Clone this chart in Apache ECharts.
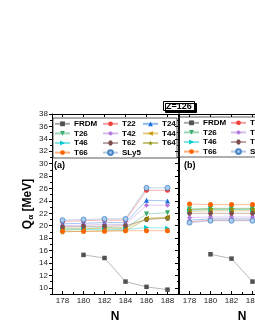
<!DOCTYPE html>
<html><head><meta charset="utf-8">
<script src="https://cdn.jsdelivr.net/npm/echarts@6/dist/echarts.min.js"></script>
<style>html,body{margin:0;padding:0;background:#fff}#c{width:255px;height:330px}</style>
</head><body><div id="c"></div>
<script>
// ---- data ----
const N_a = [178, 180, 182, 184, 186, 188];
const FRDM_a = [null, 15.3, 14.8, 11.0, 10.15, 9.7];
const T22_a  = [20.7, 20.8, 20.9, 20.9, 25.7, 25.7];
const T24_a  = [20.3, 20.4, 20.5, 20.5, 24.1, 24.0];
const T26_a  = [19.6, 19.6, 19.7, 19.6, 21.9, 22.1];
const T42_a  = [20.0, 20.1, 20.2, 20.2, 23.3, 23.3];
const T44_a  = [19.4, 19.5, 19.6, 19.6, 21.2, 21.4];
const T46_a  = [19.3, 19.4, 19.4, 19.4, 19.7, 19.6];
const T62_a  = [19.8, 19.9, 19.9, 20.0, 21.0, 21.2];
const T64_a  = [19.0, 19.1, 19.2, 19.2, 21.1, 21.3];
const T66_a  = [19.1, 19.1, 19.1, 19.2, 19.2, 19.2];
const SLy5_a = [20.9, 21.0, 21.1, 21.1, 26.1, 26.1];

const N_b = [178, 180, 182, 184];
const FRDM_b = [null, 15.4, 14.7, 11.0];
const T22_b  = [20.6, 20.9, 20.9, 20.9];
const T24_b  = [20.9, 21.1, 21.1, 21.1];
const T26_b  = [22.7, 22.8, 22.8, 22.8];
const T42_b  = [21.3, 21.4, 21.4, 21.4];
const T44_b  = [22.3, 22.4, 22.4, 22.4];
const T46_b  = [22.5, 22.6, 22.6, 22.6];
const T62_b  = [22.0, 22.0, 22.0, 22.0];
const T64_b  = [22.6, 22.7, 22.7, 22.7];
const T66_b  = [23.5, 23.4, 23.4, 23.4];
const SLy5_b = [20.5, 20.8, 20.8, 20.8];

const xTickLabels = [178, 180, 182, 184, 186, 188];
const xMinorTicks = [177, 179, 181, 183, 185, 187, 189];
const yTickLabels = [10, 12, 14, 16, 18, 20, 22, 24, 26, 28, 30, 32, 34, 36, 38];
const yMinorTicks = [9, 11, 13, 15, 17, 19, 21, 23, 25, 27, 29, 31, 33, 35, 37];

const legendCol1 = ['FRDM', 'T26', 'T46', 'T66'];
const legendCol2 = ['T22', 'T42', 'T62', 'SLy5'];
const legendCol3 = ['T24', 'T44', 'T64'];

// ---- styles ----
const STAR = 'path://M50,0 L61,35 L98,35 L68,57 L79,91 L50,70 L21,91 L32,57 L2,35 L39,35 Z';
const HEX = 'path://M25,0 L75,0 L100,50 L75,100 L25,100 L0,50 Z';
const styles = {
  FRDM: {c: '#515151', s: 'rect', r: 0},
  T22: {c: '#F14040', s: 'circle', r: 0},
  T24: {c: '#1A6FDF', s: 'triangle', r: 0},
  T26: {c: '#37AD6B', s: 'triangle', r: 180},
  T42: {c: '#B177DE', s: 'diamond', r: 0},
  T44: {c: '#CC9900', s: 'triangle', r: 90},
  T46: {c: '#00CBCC', s: 'triangle', r: -90},
  T62: {c: '#7D4E4E', s: HEX, r: 0},
  T64: {c: '#8E8E00', s: STAR, r: 0},
  T66: {c: '#FB6501', s: 'circle', r: 0},
  SLy5: {c: '#6699CC', s: 'circle', r: 0}
};
const dataA = {FRDM: FRDM_a, T22: T22_a, T24: T24_a, T26: T26_a, T42: T42_a, T44: T44_a, T46: T46_a, T62: T62_a, T64: T64_a, T66: T66_a, SLy5: SLy5_a};
const dataB = {FRDM: FRDM_b, T22: T22_b, T24: T24_b, T26: T26_b, T42: T42_b, T44: T44_b, T46: T46_b, T62: T62_b, T64: T64_b, T66: T66_b, SLy5: SLy5_b};
const order = ['FRDM','T22','T24','T26','T42','T44','T46','T62','T64','T66','SLy5'];

function mkSeries(name, xs, ys, gi) {
  const st = styles[name];
  return {
    name: name, type: 'line', xAxisIndex: gi * 3, yAxisIndex: gi * 3,
    data: xs.map((x, i) => [x, ys[i]]),
    symbol: st.s, symbolRotate: st.r,
    symbolSize: name === 'T64' ? 6 : (name === 'FRDM' ? 4.5 : 5),
    showAllSymbol: true,
    connectNulls: false,
    itemStyle: name === 'SLy5' ? {color: '#A8CBEE', borderColor: '#4A86C5', borderWidth: 0.8} : {color: st.c},
    lineStyle: {color: st.c, width: 0.8, opacity: 0.5},
    emphasis: {disabled: true},
    z: 3, animation: false
  };
}
const series = [];
order.forEach(n => series.push(mkSeries(n, N_a, dataA[n], 0)));
order.forEach(n => series.push(mkSeries(n, N_b, dataB[n], 1)));

const FONT = 'Liberation Sans';
const axisCommon = {color: '#000', width: 1};

function xAxes(gi) {
  return [
    {type: 'value', gridIndex: gi, min: 177, max: 189, position: 'bottom',
     axisLine: {show: true, onZero: false, lineStyle: axisCommon},
     axisTick: {show: true, inside: true, length: 3, customValues: xTickLabels, lineStyle: axisCommon},
     axisLabel: {customValues: xTickLabels, fontSize: 8, color: '#222', fontFamily: FONT, margin: 3},
     splitLine: {show: false},
     name: 'N', nameLocation: 'middle', nameGap: 17,
     nameTextStyle: {fontSize: 12, fontWeight: 'bold', color: '#000', fontFamily: FONT}},
    {type: 'value', gridIndex: gi, min: 177, max: 189, position: 'bottom',
     axisLine: {show: false, onZero: false},
     axisTick: {show: true, inside: true, length: 2, customValues: xMinorTicks, lineStyle: axisCommon},
     axisLabel: {show: false}, splitLine: {show: false}},
    {type: 'value', gridIndex: gi, min: 177, max: 189, position: 'top',
     axisLine: {show: true, onZero: false, lineStyle: axisCommon},
     axisTick: {show: true, inside: true, length: 3, customValues: xTickLabels, lineStyle: axisCommon},
     axisLabel: {show: false}, splitLine: {show: false}}
  ];
}
function yAxes(gi) {
  return [
    {type: 'value', gridIndex: gi, min: 9, max: 38, position: 'left',
     axisLine: {show: true, onZero: false, lineStyle: axisCommon},
     axisTick: {show: true, inside: false, length: 3, customValues: yTickLabels, lineStyle: axisCommon},
     axisLabel: {show: gi === 0, customValues: yTickLabels, fontSize: 8, color: '#222', fontFamily: FONT, margin: 4},
     splitLine: {show: false},
     name: gi === 0 ? '{q|Q}{s|α} [MeV]' : '', nameLocation: 'middle', nameGap: 17, nameRotate: 90,
     nameTextStyle: {fontSize: 12, fontWeight: 'bold', color: '#000', fontFamily: FONT,
       rich: {q: {fontSize: 12, fontWeight: 'bold', fontFamily: FONT, color: '#000'},
              s: {fontSize: 8, fontWeight: 'bold', fontFamily: FONT, color: '#000', verticalAlign: 'bottom', padding: [6, 0, 0, 0]}}}},
    {type: 'value', gridIndex: gi, min: 9, max: 38, position: 'left',
     axisLine: {show: false, onZero: false},
     axisTick: {show: true, inside: false, length: 2, customValues: yMinorTicks, lineStyle: axisCommon},
     axisLabel: {show: false}, splitLine: {show: false}},
    {type: 'value', gridIndex: gi, min: 9, max: 38, position: 'right',
     axisLine: {show: true, onZero: false, lineStyle: axisCommon},
     axisTick: {show: true, inside: true, length: 3, customValues: yTickLabels, lineStyle: axisCommon},
     axisLabel: {show: false}, splitLine: {show: false}}
  ];
}

function legend(data, left, top) {
  return {data: data, orient: 'vertical', left: left, top: top, padding: 0, itemGap: 0,
    itemWidth: 15, itemHeight: 6, selectedMode: false,
    textStyle: {fontSize: 8, fontWeight: 'bold', color: '#000', fontFamily: FONT, lineHeight: 9.6, padding: [0, 0, 0, -1]}};
}

const chart = echarts.init(document.getElementById('c'), null, {renderer: 'canvas'});
chart.setOption({
  animation: false,
  backgroundColor: '#fff',
  grid: [
    {left: 52, top: 114, width: 126, height: 180, outerBoundsMode: 'none', containLabel: false},
    {left: 179, top: 114, width: 126, height: 180, outerBoundsMode: 'none', containLabel: false}
  ],
  xAxis: [...xAxes(0), ...xAxes(1)],
  yAxis: [...yAxes(0), ...yAxes(1)],
  legend: [
    legend(legendCol1, 54, 119), legend(legendCol2, 102, 119), legend(legendCol3, 142, 119),
    legend(legendCol1, 183, 118), legend(legendCol2, 230, 118)
  ],
  title: [
    {text: '(a)', left: 54, top: 161, padding: 0, textStyle: {fontSize: 9, fontWeight: 'bold', color: '#000', fontFamily: FONT}},
    {text: '(b)', left: 184, top: 161, padding: 0, textStyle: {fontSize: 9, fontWeight: 'bold', color: '#000', fontFamily: FONT}},
    {text: 'Z=126', left: 163, top: 101, padding: [1, 3, 0, 3], backgroundColor: '#fff', borderColor: '#000', borderWidth: 1,
     shadowColor: '#000', shadowOffsetX: 2, shadowOffsetY: 2, shadowBlur: 0,
     textStyle: {fontSize: 9, fontWeight: 'bold', color: '#000', fontFamily: FONT}}
  ],
  graphic: [
    {type: 'rect', shape: {x: 53, y: 118, width: 124, height: 40}, style: {fill: 'none', stroke: '#333', lineWidth: 0.8}, z: 1, silent: true},
    {type: 'rect', shape: {x: 179, y: 117, width: 124, height: 40}, style: {fill: 'none', stroke: '#333', lineWidth: 0.8}, z: 1, silent: true}
  ],
  series: series
});
</script></body></html>
